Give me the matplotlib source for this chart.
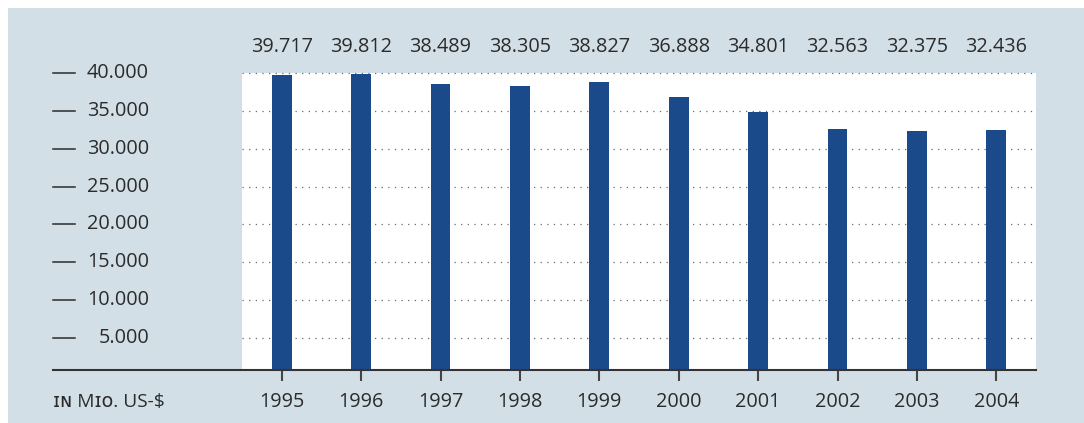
import matplotlib
matplotlib.use("Agg")
import matplotlib.pyplot as plt
from matplotlib.patches import Rectangle
import matplotlib.transforms as mtransforms

years = ["1995", "1996", "1997", "1998", "1999", "2000", "2001", "2002", "2003", "2004"]
values = [39717, 39812, 38489, 38305, 38827, 36888, 34801, 32563, 32375, 32436]
value_labels = ["39.717", "39.812", "38.489", "38.305", "38.827",
                "36.888", "34.801", "32.563", "32.375", "32.436"]
ytick_values = [5000, 10000, 15000, 20000, 25000, 30000, 35000, 40000]
ytick_labels = ["5.000", "10.000", "15.000", "20.000", "25.000", "30.000", "35.000", "40.000"]
unit_label = "ɪɴ Mɪᴏ. US-$"

BG = "#d3dfe7"
BAR = "#1b4a8a"
TXT = "#2b2b2b"
FONT = ["Open Sans", "DejaVu Sans"]
plt.rcParams["font.family"] = FONT
FS = 14.3

W, H = 1084, 423
fig = plt.figure(figsize=(W / 100, H / 100), dpi=100)
fig.patch.set_facecolor("white")
fig.patches.append(Rectangle((8 / W, 0), 1 - 8 / W, 1 - 8 / H, transform=fig.transFigure,
                             facecolor=BG, edgecolor="none", zorder=-10))

left, right, top, bottom = 242, 1036, 73, 370
ax = fig.add_axes([left / W, 1 - bottom / H, (right - left) / W, (bottom - top) / H])
ax.set_facecolor("white")

x = list(range(len(years)))
ax.bar(x, values, width=0.25, color=BAR, zorder=3)
ax.set_xlim(-0.5, 9.5)
ax.set_ylim(790, 40000)

for s in ax.spines.values():
    s.set_visible(False)

# dotted gridlines
for v in ytick_values:
    ax.axhline(v, color="#6a6a6a", lw=0.9, linestyle=(0, (1, 4.3)), zorder=1, clip_on=False)

ax.set_yticks([])
ax.set_xticks(x)
ax.set_xticklabels([])
ax.tick_params(axis="x", length=8, width=1.5, color="#444444", direction="out")

# axis baseline extending to the left
ax.plot([(53 - left) / (right - left), 1], [0, 0], transform=ax.transAxes,
        color="#333333", lw=1.5, clip_on=False, zorder=5)

# y labels with dashes on the left
blend = mtransforms.blended_transform_factory(fig.transFigure, ax.transData)
for v, lab in zip(ytick_values, ytick_labels):
    ax.plot([53 / W, 75 / W], [v, v], transform=blend, color=TXT, lw=1.1, clip_on=False)
    ax.text(149 / W, v, lab, transform=blend, ha="right", va="center",
            fontsize=FS, color=TXT, clip_on=False)

# year labels
bt = mtransforms.blended_transform_factory(ax.transData, fig.transFigure)
for xi, y in zip(x, years):
    ax.text(xi, 1 - 402 / H, y, transform=bt, ha="center", va="center",
            fontsize=FS, color=TXT)
# value labels above
for xi, lab in zip(x, value_labels):
    ax.text(xi, 1 - 47 / H, lab, transform=bt, ha="center", va="center",
            fontsize=FS, color=TXT)

fig.text(53 / W, 1 - 402 / H, unit_label, ha="left", va="center", fontsize=FS - 0.5, color=TXT)

fig.savefig("out.png", dpi=100, facecolor=fig.get_facecolor())
